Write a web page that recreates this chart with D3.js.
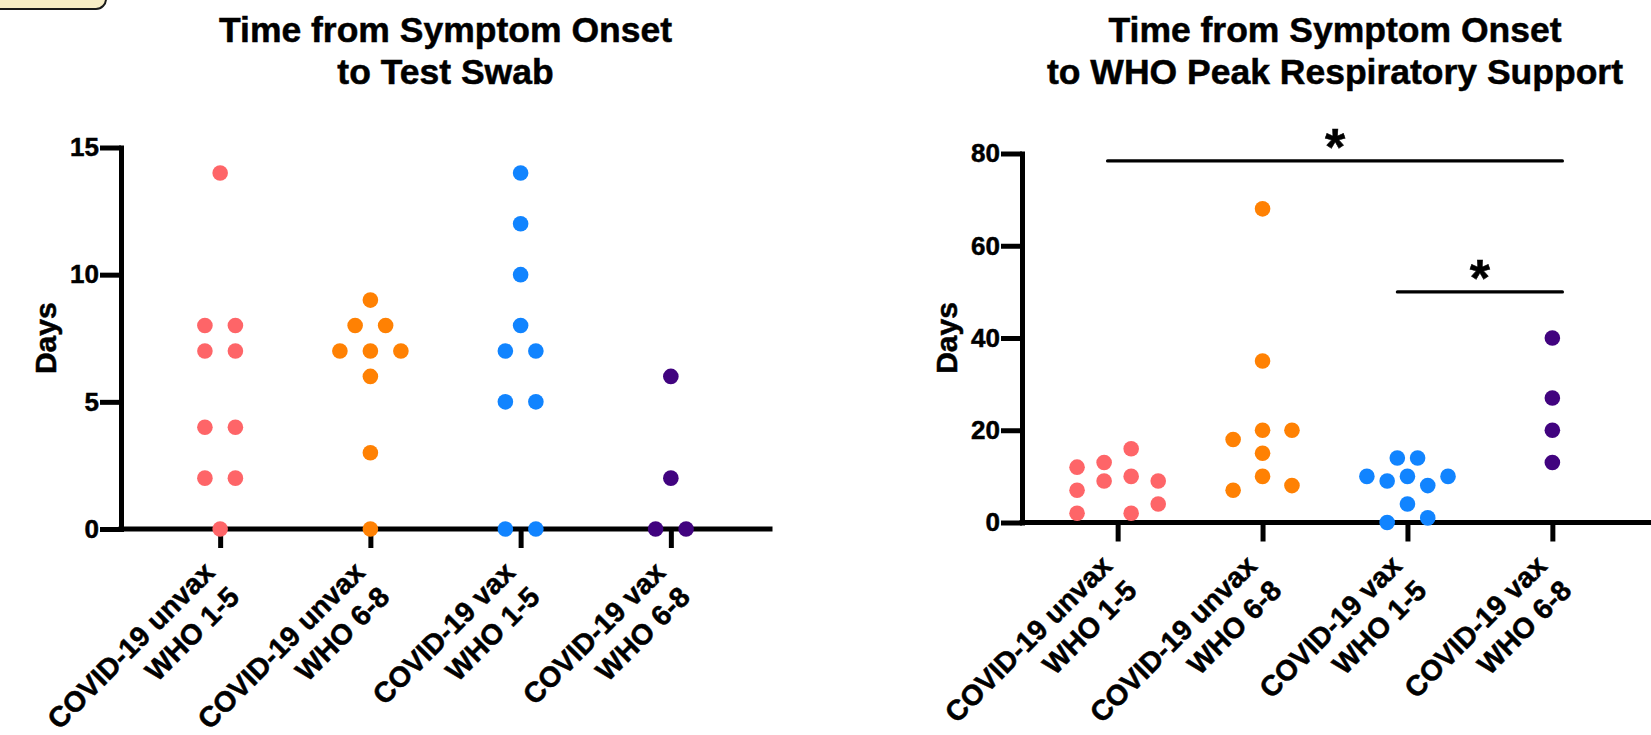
<!DOCTYPE html>
<html>
<head>
<meta charset="utf-8">
<script src="https://cdn.jsdelivr.net/npm/d3@7"></script>
<style>
  body { margin: 0; background: #fff; }
  svg { display: block; font-family: "Liberation Sans", Arial, Helvetica, sans-serif; font-weight: bold; }
  svg text { fill: #000; stroke: #000; stroke-width: 0.5px; }
</style>
</head>
<body>
<div id="chart"></div>
<script>
const width = 1651;
const height = 735;

const groups = ["unvax15", "unvax68", "vax15", "vax68"];
const groupLabels = [
    ["COVID-19 unvax", "WHO 1-5"],
    ["COVID-19 unvax", "WHO 6-8"],
    ["COVID-19 vax", "WHO 1-5"],
    ["COVID-19 vax", "WHO 6-8"]
];
const groupColors = ["#fe6568", "#ff8103", "#1184ff", "#41037f"];

// Onset -> test swab (days). slots = horizontal column of each dot
const swabUnvax15 = [14, 8, 8, 7, 7, 4, 4, 2, 2, 0];
const swabUnvax15Slots = [0, -0.5, 0.5, -0.5, 0.5, -0.5, 0.5, -0.5, 0.5, 0];
const swabUnvax68 = [9, 8, 8, 7, 7, 7, 6, 3, 0];
const swabUnvax68Slots = [0, -0.5, 0.5, -1, 0, 1, 0, 0, 0];
const swabVax15 = [14, 12, 10, 8, 7, 7, 5, 5, 0, 0];
const swabVax15Slots = [0, 0, 0, 0, -0.5, 0.5, -0.5, 0.5, -0.5, 0.5];
const swabVax68 = [6, 2, 0, 0];
const swabVax68Slots = [0, 0, -0.5, 0.5];
const swabTicks = [0, 5, 10, 15];

// Onset -> WHO peak respiratory support (days)
const peakUnvax15 = [12, 7, 2, 13, 9, 16, 10, 2, 9, 4];
const peakUnvax15Slots = [-1.5, -1.5, -1.5, -0.5, -0.5, 0.5, 0.5, 0.5, 1.5, 1.5];
const peakUnvax68 = [18, 7, 68, 35, 20, 15, 10, 20, 8];
const peakUnvax68Slots = [-1, -1, 0, 0, 0, 0, 0, 1, 1];
const peakVax15 = [10, 9, 0, 14, 10, 4, 14, 8, 1, 10];
const peakVax15Slots = [-2, -1, -1, -0.5, 0, 0, 0.5, 1, 1, 2];
const peakVax68 = [40, 27, 20, 13];
const peakVax68Slots = [0, 0, 0, 0];
const peakTicks = [0, 20, 40, 60, 80];

// significance brackets: group index from/to, height in days
const peakSig = [
    { from: 0, to: 3, level: 78.4, mark: "*" },
    { from: 2, to: 3, level: 50, mark: "*" }
];

const svg = d3.select("#chart").append("svg")
    .attr("width", width)
    .attr("height", height);

// cream tab cut off at the top-left corner
svg.append("rect")
    .attr("x", -12).attr("y", -12)
    .attr("width", 118).attr("height", 21)
    .attr("rx", 10)
    .attr("fill", "#f7edc6")
    .attr("stroke", "#1a1a1a")
    .attr("stroke-width", 2);

const panels = [
    {
        title: ["Time from Symptom Onset", "to Test Swab"],
        left: 121, right: 770, axisEnd: 770, top: 147.5, bottom: 529,
        yMax: 15, ticks: swabTicks,
        series: [
            { values: swabUnvax15, slots: swabUnvax15Slots },
            { values: swabUnvax68, slots: swabUnvax68Slots },
            { values: swabVax15, slots: swabVax15Slots },
            { values: swabVax68, slots: swabVax68Slots }
        ],
        sig: []
    },
    {
        title: ["Time from Symptom Onset", "to WHO Peak Respiratory Support"],
        left: 1022, right: 1648, axisEnd: 1660, top: 153.5, bottom: 522.5,
        yMax: 80, ticks: peakTicks,
        series: [
            { values: peakUnvax15, slots: peakUnvax15Slots },
            { values: peakUnvax68, slots: peakUnvax68Slots },
            { values: peakVax15, slots: peakVax15Slots },
            { values: peakVax68, slots: peakVax68Slots }
        ],
        sig: peakSig
    }
];

panels.forEach(drawPanel);

function drawPanel(p) {
    const g = svg.append("g");
    const x = d3.scalePoint().domain(groups).range([p.left, p.right]).padding(0.66);
    const y = d3.scaleLinear().domain([0, p.yMax]).range([p.bottom, p.top]);
    const step = x.step();
    const cx = (p.left + p.right) / 2;

    // title, two lines
    g.append("text")
        .attr("text-anchor", "middle")
        .style("font-size", "35.5px")
        .selectAll("tspan")
        .data(p.title)
        .join("tspan")
        .attr("x", cx)
        .attr("y", (d, i) => 42 + i * 42)
        .text(d => d);

    // y axis
    const gy = g.append("g")
        .attr("transform", `translate(${p.left},0)`)
        .call(d3.axisLeft(y).tickValues(p.ticks).tickSize(21).tickSizeOuter(0).tickPadding(1));

    // x axis, tick marks only
    const gx = g.append("g")
        .attr("transform", `translate(0,${p.bottom})`)
        .call(d3.axisBottom(x).tickSize(19).tickSizeOuter(0).tickFormat(""));
    gx.select(".domain").attr("d", `M${p.left},0H${p.axisEnd}`);

    [gx, gy].forEach(a => {
        a.attr("font-family", null).attr("font-size", null);
        a.select(".domain").attr("stroke", "#000").attr("stroke-width", 5).attr("stroke-linecap", "square");
        a.selectAll(".tick line").attr("stroke", "#000").attr("stroke-width", 5);
        a.selectAll(".tick text").style("font-size", "26px");
    });

    // y title
    g.append("text")
        .attr("transform", `translate(${p.left - 65},${(p.top + p.bottom) / 2}) rotate(-90)`)
        .attr("text-anchor", "middle")
        .style("font-size", "30px")
        .text("Days");

    // rotated group labels
    g.append("g").selectAll("text")
        .data(groups)
        .join("text")
        .attr("transform", d => `translate(${x(d) - 4},${p.bottom + 45}) rotate(-45)`)
        .attr("text-anchor", "end")
        .style("font-size", "28.5px")
        .selectAll("tspan")
        .data((d, i) => groupLabels[i])
        .join("tspan")
        .attr("x", 0)
        .attr("dy", (d, i) => i ? 35 : 0)
        .text(d => d);

    // dots
    const dots = p.series.flatMap((s, gi) => {
        const span = d3.max(s.slots) - d3.min(s.slots);
        const spacing = span ? Math.min(0.203 * step, 0.56 * step / span) : 0;
        return s.values.map((v, i) => ({ group: groups[gi], value: v, off: s.slots[i] * spacing, color: groupColors[gi] }));
    });

    g.append("g").selectAll("circle")
        .data(dots)
        .join("circle")
        .attr("cx", d => x(d.group) + d.off)
        .attr("cy", d => y(d.value))
        .attr("r", 7.8)
        .attr("fill", d => d.color);

    // significance brackets
    const pad = 10;
    const sg = g.append("g").selectAll("g")
        .data(p.sig)
        .join("g");
    sg.append("line")
        .attr("x1", d => x(groups[d.from]) - pad)
        .attr("x2", d => x(groups[d.to]) + pad)
        .attr("y1", d => y(d.level))
        .attr("y2", d => y(d.level))
        .attr("stroke", "#000")
        .attr("stroke-width", 3.4)
        .attr("stroke-linecap", "round");
    sg.append("text")
        .attr("x", d => (x(groups[d.from]) + x(groups[d.to])) / 2)
        .attr("y", d => y(d.level) - 25 + 29)
        .attr("text-anchor", "middle")
        .style("font-size", "52px")
        .text(d => d.mark);
}
</script>
</body>
</html>
